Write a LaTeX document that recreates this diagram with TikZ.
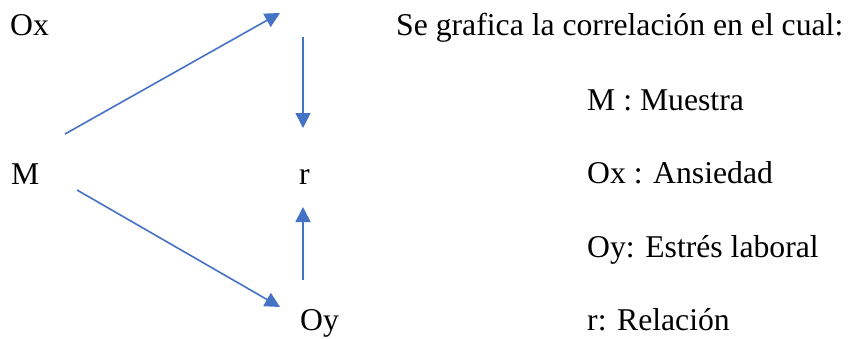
\documentclass[tikz,border=0pt]{standalone}
\usepackage{fontspec}
\setmainfont{Liberation Serif}
\usetikzlibrary{arrows.meta}
\definecolor{arrblue}{RGB}{68,114,196}
\begin{document}
\begin{tikzpicture}[x=1pt,y=-1pt,
  lbl/.style={anchor=base west,inner sep=0pt,font=\fontsize{31.7}{38}\selectfont},
  conn/.style={draw=arrblue,line width=1.6pt,-{Triangle[length=15pt,width=15pt]},fill=arrblue}]
\useasboundingbox (0,0) rectangle (848,338);
% diagram labels
\node[lbl] (ox) at (10,35) {Ox};
\node[lbl] (m) at (11,184) {M};
\node[lbl] (r) at (299,184) {r};
\node[lbl] (oy) at (300,330) {Oy};
% arrow endpoints
\coordinate (a1s) at (65,134);
\coordinate (a1e) at (280,13);
\coordinate (a2s) at (303,37);
\coordinate (a2e) at (303,128);
\coordinate (a3s) at (77,190);
\coordinate (a3e) at (280,307);
\coordinate (a4s) at (303,280);
\coordinate (a4e) at (303,207);
\draw[conn] (a1s) -- (a1e);
\draw[conn] (a2s) -- (a2e);
\draw[conn] (a3s) -- (a3e);
\draw[conn] (a4s) -- (a4e);
% legend
\node[lbl] (title) at (396,35) {Se grafica la correlación en el cual:};
\node[lbl] (l1) at (587,110) {M : Muestra};
\node[lbl] (l2) at (587,183) {Ox : Ansiedad};
\node[lbl] (l3) at (587,257) {Oy: Estrés laboral};
\node[lbl] (l4) at (587,330) {r: Relación};
\end{tikzpicture}
\end{document}
